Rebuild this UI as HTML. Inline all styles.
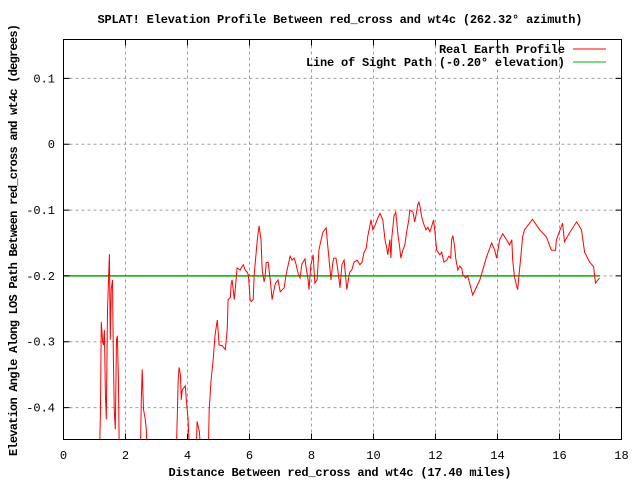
<!DOCTYPE html>
<html><head><meta charset="utf-8"><style>body{margin:0;background:#fff}svg{display:block}text{font-family:"Liberation Mono",monospace;font-size:12px;fill:#000}</style></head>
<body>
<svg id="chart" width="640" height="480" xmlns="http://www.w3.org/2000/svg">
<rect width="640" height="480" fill="#fff"/>
<g id="grid"></g>
<clipPath id="clip"><rect x="63" y="39" width="559" height="401"/></clipPath>
<g id="series" clip-path="url(#clip)"></g>
<rect x="63.5" y="39.5" width="558" height="400" fill="none" stroke="#000"/>
<g id="ticks"></g>
<text x="340" y="23" text-anchor="middle" textLength="485" font-weight="bold">SPLAT! Elevation Profile Between red_cross and wt4c (262.32° azimuth)</text>
<text x="340" y="476" text-anchor="middle" textLength="343" font-weight="bold">Distance Between red_cross and wt4c (17.40 miles)</text>
<text transform="translate(17,240) rotate(-90)" text-anchor="middle" textLength="432" font-weight="bold">Elevation Angle Along LOS Path Between red_cross and wt4c (degrees)</text>
<g>
<text x="565" y="53" text-anchor="end" font-weight="bold" textLength="126">Real Earth Profile</text>
<line x1="573" y1="49" x2="606" y2="49" stroke="#f00"/>
<text x="565" y="66" text-anchor="end" font-weight="bold" textLength="259">Line of Sight Path (-0.20° elevation)</text>
<line x1="573" y1="62" x2="606" y2="62" stroke="#00b000"/>
</g>
</svg>
<script>
const xTicks=[0,2,4,6,8,10,12,14,16,18];
const yTicks=[0.1,0,-0.1,-0.2,-0.3,-0.4];
const yTickLabels=["0.1","0","-0.1","-0.2","-0.3","-0.4"];
const losAngle=-0.2;
const losEnd=17.3;
const dist=[1.16,1.19,1.22,1.26,1.29,1.32,1.35,1.38,1.42,1.48,1.51,1.54,1.58,1.61,1.64,1.67,1.71,1.74,1.77,1.80,2.48,2.51,2.54,2.58,2.64,2.67,2.70,3.64,3.67,3.70,3.73,3.77,3.80,3.83,3.93,3.96,4.02,4.06,4.28,4.31,4.38,4.44,4.67,4.70,4.76,4.83,4.89,4.96,4.99,5.02,5.12,5.22,5.28,5.31,5.38,5.41,5.44,5.51,5.54,5.60,5.70,5.73,5.80,5.86,5.92,5.96,5.99,6.02,6.05,6.12,6.15,6.25,6.31,6.37,6.41,6.47,6.50,6.54,6.60,6.66,6.70,6.73,6.79,6.83,6.92,6.99,7.12,7.18,7.31,7.37,7.44,7.50,7.57,7.63,7.69,7.79,7.82,7.89,7.92,7.98,8.05,8.11,8.18,8.24,8.31,8.37,8.47,8.50,8.56,8.63,8.69,8.72,8.79,8.85,8.92,8.98,9.05,9.08,9.14,9.21,9.24,9.30,9.37,9.47,9.56,9.63,9.69,9.76,9.82,9.92,9.98,10.05,10.14,10.21,10.30,10.37,10.43,10.46,10.53,10.56,10.59,10.66,10.72,10.79,10.85,10.88,10.95,11.01,11.08,11.14,11.17,11.27,11.33,11.37,11.43,11.46,11.49,11.56,11.62,11.69,11.75,11.82,11.88,11.94,11.98,12.04,12.14,12.20,12.27,12.36,12.43,12.49,12.52,12.56,12.62,12.65,12.72,12.78,12.85,12.88,12.97,13.04,13.10,13.20,13.43,13.65,13.81,13.91,13.97,14.07,14.17,14.29,14.39,14.46,14.49,14.55,14.65,14.75,14.81,14.87,15.13,15.36,15.58,15.74,15.87,15.90,16.10,16.16,16.32,16.55,16.71,16.81,16.97,17.10,17.16,17.29];
const angle=[-0.47,-0.411,-0.270,-0.300,-0.305,-0.282,-0.380,-0.418,-0.252,-0.167,-0.297,-0.221,-0.206,-0.327,-0.406,-0.433,-0.297,-0.291,-0.358,-0.47,-0.47,-0.388,-0.342,-0.403,-0.418,-0.433,-0.47,-0.47,-0.412,-0.358,-0.339,-0.350,-0.388,-0.373,-0.367,-0.388,-0.418,-0.47,-0.47,-0.421,-0.436,-0.47,-0.47,-0.403,-0.358,-0.327,-0.289,-0.267,-0.286,-0.305,-0.306,-0.312,-0.282,-0.236,-0.233,-0.212,-0.206,-0.236,-0.221,-0.188,-0.191,-0.188,-0.183,-0.191,-0.194,-0.198,-0.215,-0.236,-0.239,-0.236,-0.198,-0.145,-0.124,-0.145,-0.191,-0.209,-0.203,-0.180,-0.179,-0.203,-0.221,-0.236,-0.221,-0.212,-0.206,-0.224,-0.218,-0.198,-0.170,-0.176,-0.173,-0.182,-0.197,-0.203,-0.182,-0.174,-0.185,-0.206,-0.221,-0.183,-0.168,-0.211,-0.206,-0.161,-0.145,-0.133,-0.127,-0.142,-0.173,-0.206,-0.179,-0.173,-0.173,-0.191,-0.218,-0.183,-0.176,-0.191,-0.221,-0.200,-0.194,-0.191,-0.179,-0.176,-0.183,-0.179,-0.165,-0.158,-0.139,-0.115,-0.130,-0.123,-0.112,-0.105,-0.115,-0.145,-0.158,-0.168,-0.145,-0.173,-0.142,-0.109,-0.103,-0.138,-0.158,-0.173,-0.161,-0.153,-0.130,-0.115,-0.100,-0.103,-0.118,-0.108,-0.092,-0.088,-0.092,-0.112,-0.121,-0.130,-0.126,-0.133,-0.124,-0.115,-0.133,-0.161,-0.168,-0.164,-0.179,-0.176,-0.170,-0.173,-0.145,-0.139,-0.156,-0.173,-0.191,-0.185,-0.189,-0.198,-0.203,-0.200,-0.211,-0.229,-0.206,-0.171,-0.150,-0.161,-0.173,-0.145,-0.136,-0.145,-0.153,-0.145,-0.176,-0.202,-0.221,-0.171,-0.141,-0.130,-0.114,-0.130,-0.141,-0.161,-0.161,-0.145,-0.120,-0.148,-0.135,-0.118,-0.130,-0.164,-0.179,-0.186,-0.211,-0.203];
const NS="http://www.w3.org/2000/svg";
const X0=63.5,X1=621.5,Y0=439.5,Y1=39.5,DMIN=0,DMAX=18,AMIN=-0.4485,AMAX=0.1591;
function xs(d){return X0+(d-DMIN)/(DMAX-DMIN)*(X1-X0);}
function ys(a){return Y0-(a-AMIN)/(AMAX-AMIN)*(Y0-Y1);}
function mk(tag,attrs,parent){const e=document.createElementNS(NS,tag);for(const k in attrs)e.setAttribute(k,attrs[k]);parent.appendChild(e);return e;}
const grid=document.getElementById('grid'),ticks=document.getElementById('ticks'),series=document.getElementById('series');
xTicks.forEach(t=>{const x=xs(t);
 if(t>DMIN&&t<DMAX){const g=mk('line',{x1:x,y1:Y1,x2:x,y2:Y0,stroke:'#a0a0a0','stroke-dasharray':'3,3'},grid);
 
 }
 const tk=mk('path',{d:`M${x},${Y0}v-6M${x},${Y1}v6`,stroke:'#000'},ticks);
 
 
 const l=mk('text',{x:x,y:459,'text-anchor':'middle'},ticks);l.textContent=String(t);
 
 });
yTicks.forEach((t,i)=>{const y=ys(t);
 const g=mk('line',{x1:X0,y1:y,x2:X1,y2:y,stroke:'#a0a0a0','stroke-dasharray':'3,3'},grid);
 
 
 const tk=mk('path',{d:`M${X0},${y}h6M${X1},${y}h-6`,stroke:'#000'},ticks);
 
 
 const l=mk('text',{x:55,y:y+4,'text-anchor':'end'},ticks);l.textContent=yTickLabels[i];
 
 });
const los=mk('line',{x1:xs(0),y1:ys(losAngle),x2:xs(losEnd),y2:ys(losAngle),stroke:'#00b000','stroke-width':1.5},series);


const pts=dist.map((d,i)=>xs(d).toFixed(1)+','+ys(angle[i]).toFixed(1)).join(' ');
const prof=mk('polyline',{points:pts,fill:'none',stroke:'#f00','stroke-width':1},series);


</script>
</body></html>
